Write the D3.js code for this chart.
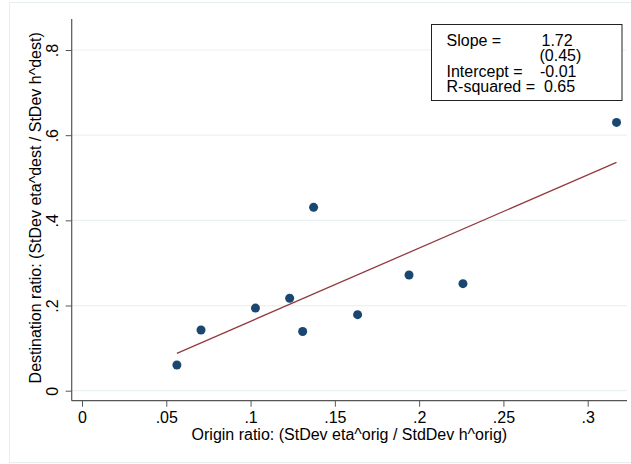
<!DOCTYPE html>
<html>
<head>
<meta charset="utf-8">
<script src="https://cdn.jsdelivr.net/npm/d3@7/dist/d3.min.js"></script>
<style>
html,body{margin:0;padding:0;background:#fff;}
svg{display:block;font-family:"Liberation Sans",Arial,sans-serif;}
</style>
</head>
<body>
<svg id="chart" width="631" height="464"></svg>
<script>
// ---- data ----
const originRatio = [0.0563, 0.0706, 0.1029, 0.1232, 0.1309, 0.1374, 0.1635, 0.1940, 0.2260, 0.3171];
const destRatio   = [0.0603, 0.1425, 0.1940, 0.2170, 0.1390, 0.4306, 0.1785, 0.2717, 0.2513, 0.6300];
const fitX = [0.0563, 0.3171];
const fitY = [0.0878, 0.5363];
const xTicks = [0, 0.05, 0.1, 0.15, 0.2, 0.25, 0.3];
const xTickLabels = ["0", ".05", ".1", ".15", ".2", ".25", ".3"];
const yTicks = [0, 0.2, 0.4, 0.6, 0.8];
const yTickLabels = ["0", ".2", ".4", ".6", ".8"];
const statLabels = ["Slope =", "", "Intercept =", "R-squared ="];
const statValues = ["1.72", "(0.45)", "-0.01", "0.65"];
const xTitle = "Origin ratio: (StDev eta^orig / StdDev h^orig)";
const yTitle = "Destination ratio: (StDev eta^dest / StDev h^dest)";

// ---- layout ----
const svg = d3.select("#chart");
const plot = {left: 71.7, right: 627, top: 19, bottom: 400.7};
const x = d3.scaleLinear().domain([0, 0.3]).range([82, 587.7]);
const y = d3.scaleLinear().domain([0, 0.8]).range([390.7, 50]);
const fs = 16;

// outer graph border
svg.append("rect").attr("x", 9.5).attr("y", 2.5).attr("width", 640).attr("height", 460)
  .attr("fill", "#fff").attr("stroke", "#e6eef0").attr("stroke-width", 1);

// gridlines
svg.append("g").selectAll("line").data(yTicks).join("line")
  .attr("x1", plot.left).attr("x2", plot.right)
  .attr("y1", d => y(d)).attr("y2", d => y(d))
  .attr("stroke", "#eaf2f3").attr("stroke-width", 1.2);

// x axis
const xAxis = d3.axisBottom(x).tickValues(xTicks)
  .tickFormat((d, i) => xTickLabels[i]).tickSize(6).tickPadding(3).tickSizeOuter(0);
const gx = svg.append("g").attr("transform", `translate(0,${plot.bottom})`).call(xAxis);
gx.select(".domain").remove();
gx.selectAll(".tick line").attr("stroke", "#555");
gx.selectAll(".tick text").attr("font-size", fs).attr("fill", "#000")
  .attr("font-family", "Liberation Sans, Arial, sans-serif").attr("dy", "0.82em");
svg.append("line").attr("x1", plot.left).attr("x2", plot.right)
  .attr("y1", plot.bottom).attr("y2", plot.bottom).attr("stroke", "#555").attr("stroke-width", 1.2);

// y axis
const yAxis = d3.axisLeft(y).tickValues(yTicks)
  .tickFormat((d, i) => yTickLabels[i]).tickSize(6).tickSizeOuter(0);
const gy = svg.append("g").attr("transform", `translate(${plot.left},0)`).call(yAxis);
gy.select(".domain").remove();
gy.selectAll(".tick line").attr("stroke", "#555");
gy.selectAll(".tick text").remove();
gy.selectAll(".tick").append("text")
  .attr("transform", "translate(-13.5,0) rotate(-90)")
  .attr("text-anchor", "middle").attr("font-size", fs).attr("fill", "#000")
  .attr("font-family", "Liberation Sans, Arial, sans-serif")
  .text((d, i) => yTickLabels[i]);
svg.append("line").attr("x1", plot.left).attr("x2", plot.left)
  .attr("y1", plot.top).attr("y2", plot.bottom).attr("stroke", "#555").attr("stroke-width", 1.2);

// axis titles
svg.append("text").attr("x", (plot.left + plot.right) / 2).attr("y", 440)
  .attr("text-anchor", "middle").attr("font-size", fs).attr("fill", "#000").text(xTitle);
svg.append("text").attr("transform", `translate(40.5,${(plot.top + plot.bottom) / 2 - 2}) rotate(-90)`)
  .attr("text-anchor", "middle").attr("font-size", fs).attr("fill", "#000").text(yTitle);

// fit line
const fitData = fitX.map((v, i) => [v, fitY[i]]);
svg.append("path").datum(fitData)
  .attr("d", d3.line().x(d => x(d[0])).y(d => y(d[1])))
  .attr("fill", "none").attr("stroke", "#943a3f").attr("stroke-width", 1.3);

// points
svg.append("g").selectAll("circle").data(originRatio).join("circle")
  .attr("cx", d => x(d)).attr("cy", (d, i) => y(destRatio[i])).attr("r", 4.5)
  .attr("fill", "#1a476f");

// stats box
svg.append("rect").attr("x", 431.5).attr("y", 24.5).attr("width", 190.5).attr("height", 76)
  .attr("fill", "#fff").attr("stroke", "#222").attr("stroke-width", 1);
const rowY = [45.7, 61.2, 76.7, 92.4];
const valX = [541.5, 539.5, 540, 544];
svg.append("g").selectAll("text").data(statLabels).join("text")
  .attr("x", 446.5).attr("y", (d, i) => rowY[i])
  .attr("font-size", fs).attr("fill", "#000").text(d => d);
svg.append("g").selectAll("text").data(statValues).join("text")
  .attr("x", (d, i) => valX[i]).attr("y", (d, i) => rowY[i])
  .attr("font-size", fs).attr("fill", "#000").text(d => d);
</script>
</body>
</html>
